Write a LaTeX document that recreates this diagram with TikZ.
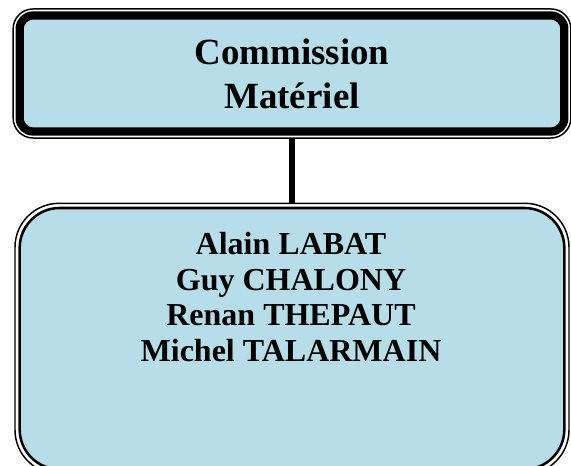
\documentclass[tikz,border=0pt]{standalone}
\usepackage{fontspec}
\setmainfont{Liberation Serif}
\usepackage{xcolor}
\usepackage{tikz}
\usetikzlibrary{positioning, fit}
\definecolor{aqua}{HTML}{B7DEE8}
\tikzstyle{titlebox} = [rectangle, rounded corners=10pt, minimum width=408.5pt, minimum height=87pt, outer sep=0pt, text centered, align=center, draw=black, line width=6.2pt, fill=aqua, font=\fontsize{27.7}{33}\selectfont\bfseries]
\tikzstyle{teambox} = [rectangle, rounded corners=30pt, minimum width=408.5pt, minimum height=196pt, outer sep=0pt, draw=black, line width=1.9pt, fill=aqua]
\tikzstyle{frame} = [rectangle, outer sep=0pt, draw=black, line width=1.1pt]
\tikzstyle{names} = [inner sep=0pt, align=center, font=\fontsize{24}{26.7}\selectfont\bfseries]
\tikzstyle{link} = [line width=3.8pt]

\begin{document}
\begin{tikzpicture}[x=0.75pt,y=0.75pt]
   \useasboundingbox (0,0) rectangle (571,466);
   \node (top) [titlebox] at (292,392.5) {Commission\\Mat\'eriel};
   \node (topframe) [frame, rounded corners=15pt, inner sep=4.9pt, fit=(top)] {};
   \node (team) [teambox, anchor=north] at (292,258) {};
   \node (teamframe) [frame, rounded corners=33pt, inner sep=3.5pt, fit=(team)] {};
   \node (list) [names, anchor=north] at (291,234) {Alain LABAT\\Guy CHALONY\\Renan THEPAUT\\Michel TALARMAIN};
   \draw [link] (topframe.south) -- (teamframe.north);
\end{tikzpicture}
\end{document}
